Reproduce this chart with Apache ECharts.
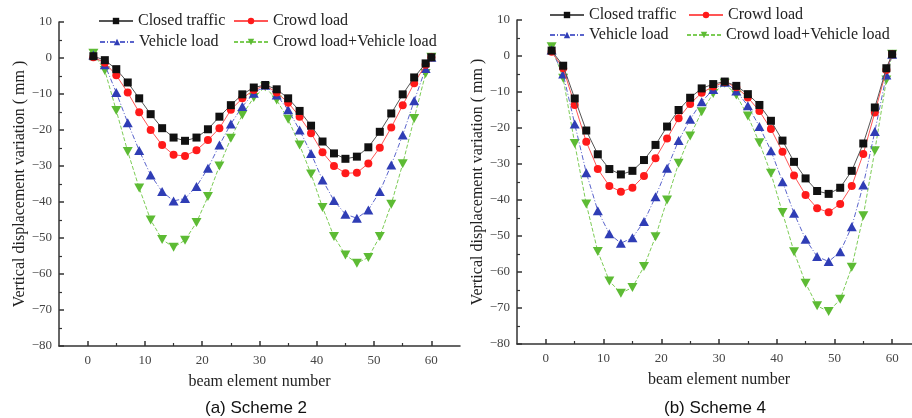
<!DOCTYPE html>
<html><head><meta charset="utf-8">
<script src="https://cdn.jsdelivr.net/npm/echarts@6/dist/echarts.min.js"></script>
<style>html,body{margin:0;padding:0;background:#fff}#c{width:912px;height:418px}</style>
</head><body><div id="c"></div>
<script>
// beam element numbers
const elements = [1,3,5,7,9,11,13,15,17,19,21,23,25,27,29,31,33,35,37,39,41,43,45,47,49,51,53,55,57,59,60];
const seriesNames = ['Closed traffic','Crowd load','Vehicle load','Crowd load+Vehicle load'];
const xTickLabels = [0,10,20,30,40,50,60];
const xMinorTicks = [5,15,25,35,45,55];
const captions = ['(a) Scheme 2','(b) Scheme 4'];

// Scheme 2
const closed2  = [0.5,-0.6,-3.1,-6.8,-11.2,-15.6,-19.5,-22.1,-23.0,-22.1,-19.8,-16.3,-13.1,-10.1,-8.2,-7.5,-8.7,-11.2,-14.7,-18.8,-23.2,-26.5,-28.0,-27.4,-24.8,-20.5,-15.4,-10.1,-5.4,-1.5,0.2];
const crowd2   = [0.2,-1.3,-4.8,-9.6,-15.1,-20.0,-24.2,-26.9,-27.2,-25.6,-22.8,-19.5,-14.4,-11.2,-8.9,-7.6,-9.6,-12.4,-16.3,-20.9,-26.2,-30.0,-32.0,-31.9,-29.3,-24.9,-19.3,-13.1,-7.0,-1.9,0.2];
const vehicle2 = [0.8,-1.9,-9.6,-18.0,-25.7,-32.5,-37.1,-39.7,-39.0,-35.7,-30.6,-24.2,-18.3,-13.5,-9.8,-7.6,-10.3,-14.4,-20.0,-26.5,-33.9,-39.6,-43.4,-44.5,-42.2,-37.1,-29.7,-21.4,-11.9,-2.9,0.2];
const both2    = [1.3,-3.5,-14.6,-26.0,-36.1,-45.0,-50.4,-52.6,-50.6,-45.7,-38.5,-30.0,-22.3,-15.8,-11.0,-8.0,-11.7,-17.0,-24.2,-32.2,-41.5,-49.6,-54.7,-57.0,-55.4,-49.6,-40.6,-29.4,-16.8,-4.3,0.2];

// Scheme 4
const closed4  = [1.5,-2.7,-11.8,-20.7,-27.3,-31.4,-32.9,-31.9,-28.9,-24.7,-19.6,-15.0,-11.6,-9.0,-7.8,-7.1,-8.3,-10.6,-13.6,-18.0,-23.5,-29.4,-34.0,-37.5,-38.3,-36.6,-31.9,-24.3,-14.3,-3.4,0.5];
const crowd4   = [1.2,-3.4,-13.6,-23.8,-31.4,-36.1,-37.7,-36.6,-33.3,-28.4,-22.9,-17.3,-13.3,-10.2,-8.5,-7.2,-8.7,-11.5,-15.3,-20.3,-26.6,-33.2,-38.6,-42.3,-43.4,-41.1,-36.1,-27.2,-15.7,-3.9,0.5];
const vehicle4 = [1.7,-5.0,-18.9,-32.4,-43.0,-49.4,-52.0,-50.5,-46.0,-39.1,-31.2,-23.5,-17.6,-12.7,-9.3,-7.3,-9.7,-13.8,-19.6,-26.3,-34.9,-43.7,-50.9,-55.7,-57.1,-54.4,-47.4,-35.8,-21.0,-5.3,0.5];
const both4    = [2.6,-6.2,-24.3,-41.1,-54.3,-62.5,-65.9,-64.3,-58.5,-50.2,-40.0,-29.8,-22.2,-15.5,-10.4,-7.6,-10.8,-16.7,-24.1,-32.6,-43.5,-54.4,-63.1,-69.4,-71.0,-67.6,-58.7,-44.4,-26.3,-6.7,0.5];

const serif = 'Liberation Serif, DejaVu Serif, serif';
const styles = [
  {symbol:'rect', size:8, color:'#111111', line:'#555555', type:'solid'},
  {symbol:'circle', size:8, color:'#ff1a1a', line:'#ff5555', type:'solid'},
  {symbol:'triangle', size:[10,9], color:'#2f3db5', line:'#5a64cc', type:[5,2,1,2]},
  {symbol:'path://M0,0L2,0L1,1.732Z', size:[10,9], color:'#5dbb34', line:'#7ccc55', type:[4,2]}
];
const sets = [[closed2,crowd2,vehicle2,both2],[closed4,crowd4,vehicle4,both4]];

const grids = [
  {left:59, top:22, width:401, height:324, outerBoundsMode:'none', containLabel:false},
  {left:517, top:20, width:404, height:324, outerBoundsMode:'none', containLabel:false}
];
const minus = v => String(v).replace('-', '\u2212');

const xAxes = [], yAxes = [], series = [], legends = [], graphics = [];
const yNameGap = [31, 30];
const captionX = [256, 715];
grids.forEach((g, gi) => {
  xAxes.push({
    gridIndex:gi, type:'value', min:-5, max:65, position:'bottom',
    name:'beam element number', nameLocation:'middle', nameGap:28,
    nameTextStyle:{fontFamily:serif, fontSize:16, color:'#222'},
    axisLine:{onZero:false, lineStyle:{color:'#333', width:1.5}},
    axisTick:{inside:true, length:5, customValues:xTickLabels, lineStyle:{color:'#333', width:1.5}},
    axisLabel:{customValues:xTickLabels, color:'#444', fontFamily:serif, fontSize:13, margin:8},
    splitLine:{show:false}
  });
  xAxes.push({
    gridIndex:gi, type:'value', min:-5, max:65, position:'bottom',
    axisLine:{show:false, onZero:false},
    axisTick:{inside:true, length:3, customValues:xMinorTicks, lineStyle:{color:'#333', width:1.2}},
    axisLabel:{show:false}, splitLine:{show:false}
  });
  yAxes.push({
    gridIndex:gi, type:'value', min:-80, max:10, interval:10, position:'left',
    name:'Vertical displacement variation ( mm )', nameLocation:'middle', nameGap:yNameGap[gi],
    nameTextStyle:{fontFamily:serif, fontSize:16, color:'#222'},
    axisLine:{show:true, onZero:false, lineStyle:{color:'#333', width:1.5}},
    axisTick:{show:true, inside:true, length:5, lineStyle:{color:'#333', width:1.5}},
    minorTick:{show:true, splitNumber:2, length:3, lineStyle:{color:'#333', width:1.2}},
    axisLabel:{color:'#444', fontFamily:serif, fontSize:13, margin:7, formatter:minus},
    splitLine:{show:false}
  });
  sets[gi].forEach((vals, si) => {
    const s = styles[si];
    series.push({
      name:seriesNames[si], type:'line', xAxisIndex:gi*2, yAxisIndex:gi,
      data: elements.map((e, i) => [e, vals[i]]),
      symbol:s.symbol, symbolSize:s.size, showSymbol:true,
      itemStyle:{color:s.color},
      lineStyle:{color:s.line, width:1, type:s.type},
      z: 10 - si
    });
  });
  graphics.push({type:'text', x: captionX[gi], y: 408,
    style:{text:captions[gi], font:'17px "Liberation Sans", Arial, sans-serif', fill:'#111', align:'center', verticalAlign:'middle'}});
});

const legPos = [
  [[98,13],[233,13],[99,34],[233,34]],
  [[549,7],[688,7],[549,27],[686,27]]
];
legPos.forEach(row => row.forEach((p, i) => {
  legends.push({data:[seriesNames[i]], left:p[0], top:p[1], padding:0, itemWidth:34, itemHeight:8, itemGap:0,
    selectedMode:false, textStyle:{fontFamily:serif, fontSize:16, color:'#222'}});
}));

const chart = echarts.init(document.getElementById('c'), null, {renderer:'canvas'});
chart.setOption({
  animation:false,
  backgroundColor:'#fff',
  grid:grids,
  xAxis:xAxes, yAxis:yAxes,
  legend:legends,
  series:series,
  graphic:graphics
});
</script>
</body></html>
